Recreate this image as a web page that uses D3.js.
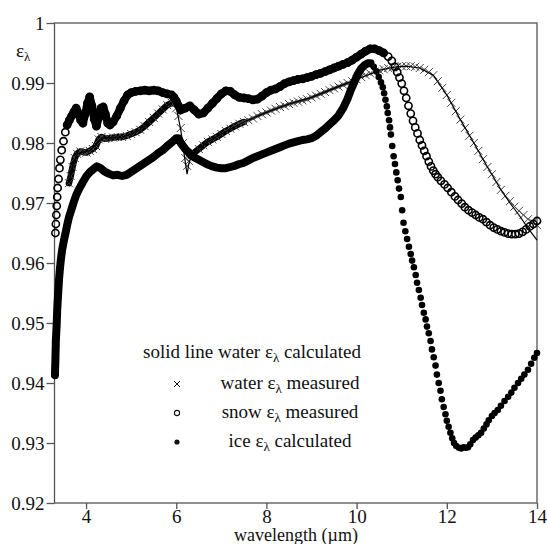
<!DOCTYPE html>
<html lang="en">
<head>
<meta charset="UTF-8">
<title>Emissivity vs wavelength</title>
<script src="https://d3js.org/d3.v7.min.js"></script>
<style>
  body { margin: 0; background: #fff; }
  svg { font-family: "Liberation Serif", "DejaVu Serif", serif; }
</style>
</head>
<body>
<svg width="547" height="544"></svg>
<script>
// axis ticks
const xTicks = [4, 6, 8, 10, 12, 14];
const xTickLabels = ["4", "6", "8", "10", "12", "14"];
const yTicks = [0.92, 0.93, 0.94, 0.95, 0.96, 0.97, 0.98, 0.99, 1];
const yTickLabels = ["0.92", "0.93", "0.94", "0.95", "0.96", "0.97", "0.98", "0.99", "1"];

// legend
const legendNames = ["solid line water", "water", "snow", "ice"];
const legendKinds = ["calculated", "measured", "measured", "calculated"];

// ice emissivity, calculated  [wavelength µm, emissivity]
const ice = [[3.31,0.9413],[3.32,0.9440],[3.33,0.9470],[3.35,0.9500],[3.36,0.9522],[3.38,0.9548],[3.40,0.9572],[3.42,0.9590],[3.44,0.9605],[3.47,0.9622],[3.51,0.9638],[3.55,0.9652],[3.58,0.9663],[3.62,0.9676],[3.67,0.9688],[3.72,0.9700],[3.78,0.9713],[3.85,0.9724],[3.93,0.9735],[4.01,0.9745],[4.09,0.9752],[4.17,0.9757],[4.24,0.9761],[4.32,0.9758],[4.40,0.9753],[4.50,0.9749],[4.60,0.9746],[4.70,0.9747],[4.80,0.9745],[4.90,0.9747],[5.00,0.9752],[5.10,0.9757],[5.20,0.9762],[5.30,0.9767],[5.40,0.9772],[5.50,0.9777],[5.60,0.9783],[5.70,0.9788],[5.80,0.9795],[5.90,0.9801],[6.00,0.9808],[6.05,0.9808],[6.10,0.9800],[6.20,0.9790],[6.30,0.9782],[6.40,0.9776],[6.50,0.9772],[6.60,0.9768],[6.70,0.9764],[6.80,0.9761],[6.90,0.9759],[7.00,0.9758],[7.10,0.9758],[7.20,0.9760],[7.30,0.9762],[7.40,0.9765],[7.50,0.9767],[7.60,0.9771],[7.70,0.9775],[7.80,0.9778],[7.90,0.9781],[8.00,0.9784],[8.10,0.9787],[8.20,0.9790],[8.30,0.9793],[8.40,0.9796],[8.50,0.9799],[8.60,0.9801],[8.70,0.9803],[8.80,0.9805],[8.90,0.9806],[9.00,0.9808],[9.10,0.9812],[9.20,0.9818],[9.30,0.9824],[9.40,0.9831],[9.50,0.9838],[9.60,0.9846],[9.70,0.9858],[9.80,0.9874],[9.87,0.9888],[9.95,0.9902],[10.02,0.9914],[10.10,0.9924],[10.18,0.9930],[10.25,0.9933],[10.31,0.9933],[10.38,0.9927],[10.44,0.9919],[10.49,0.9910],[10.54,0.9901],[10.58,0.9893],[10.61,0.9883],[10.64,0.9872],[10.67,0.9861],[10.69,0.9850],[10.72,0.9838],[10.74,0.9826],[10.76,0.9814],[10.79,0.9795],[10.82,0.9778],[10.85,0.9765],[10.88,0.9751],[10.91,0.9738],[10.94,0.9724],[10.98,0.9710],[11.01,0.9688],[11.04,0.9667],[11.08,0.9653],[11.12,0.9640],[11.16,0.9627],[11.20,0.9615],[11.23,0.9604],[11.27,0.9593],[11.31,0.9580],[11.34,0.9567],[11.38,0.9555],[11.42,0.9542],[11.45,0.9530],[11.49,0.9517],[11.53,0.9506],[11.56,0.9494],[11.60,0.9483],[11.64,0.9470],[11.67,0.9456],[11.71,0.9443],[11.75,0.9429],[11.78,0.9414],[11.82,0.9400],[11.86,0.9387],[11.89,0.9373],[11.93,0.9360],[11.97,0.9348],[12.00,0.9337],[12.04,0.9327],[12.08,0.9317],[12.12,0.9308],[12.16,0.9300],[12.21,0.9295],[12.27,0.9292],[12.32,0.9291],[12.37,0.9293],[12.42,0.9292],[12.47,0.9293],[12.52,0.9298],[12.58,0.9305],[12.64,0.9309],[12.70,0.9313],[12.76,0.9317],[12.82,0.9324],[12.88,0.9331],[12.93,0.9338],[13.00,0.9345],[13.06,0.9350],[13.13,0.9355],[13.20,0.9362],[13.28,0.9370],[13.36,0.9377],[13.43,0.9384],[13.50,0.9392],[13.58,0.9400],[13.65,0.9407],[13.72,0.9414],[13.80,0.9422],[13.87,0.9432],[13.94,0.9442],[14.00,0.9450]];

// snow emissivity, measured
const snow = [[3.32,0.9650],[3.33,0.9665],[3.34,0.9680],[3.35,0.9695],[3.36,0.9710],[3.37,0.9725],[3.39,0.9740],[3.41,0.9758],[3.43,0.9772],[3.46,0.9788],[3.50,0.9803],[3.54,0.9818],[3.58,0.9830],[3.63,0.9838],[3.68,0.9845],[3.73,0.9852],[3.78,0.9858],[3.83,0.9850],[3.88,0.9838],[3.93,0.9833],[3.98,0.9848],[4.03,0.9866],[4.08,0.9877],[4.13,0.9862],[4.18,0.9840],[4.23,0.9828],[4.28,0.9842],[4.33,0.9858],[4.38,0.9860],[4.43,0.9848],[4.48,0.9833],[4.53,0.9830],[4.60,0.9835],[4.68,0.9845],[4.76,0.9858],[4.84,0.9870],[4.92,0.9880],[5.00,0.9884],[5.10,0.9886],[5.20,0.9887],[5.30,0.9888],[5.40,0.9887],[5.50,0.9888],[5.60,0.9887],[5.70,0.9884],[5.80,0.9882],[5.90,0.9880],[5.95,0.9876],[6.00,0.9870],[6.05,0.9862],[6.10,0.9855],[6.20,0.9858],[6.30,0.9862],[6.40,0.9855],[6.50,0.9848],[6.60,0.9850],[6.70,0.9858],[6.80,0.9866],[6.90,0.9874],[7.00,0.9882],[7.10,0.9887],[7.20,0.9886],[7.30,0.9880],[7.40,0.9876],[7.50,0.9875],[7.60,0.9874],[7.70,0.9872],[7.80,0.9873],[7.90,0.9878],[8.00,0.9884],[8.10,0.9888],[8.20,0.9890],[8.30,0.9894],[8.40,0.9899],[8.50,0.9902],[8.60,0.9904],[8.70,0.9906],[8.80,0.9907],[8.90,0.9909],[9.00,0.9911],[9.10,0.9914],[9.20,0.9916],[9.30,0.9919],[9.40,0.9922],[9.50,0.9925],[9.60,0.9928],[9.70,0.9931],[9.80,0.9934],[9.90,0.9938],[10.00,0.9943],[10.10,0.9948],[10.20,0.9953],[10.30,0.9957],[10.40,0.9957],[10.50,0.9954],[10.60,0.9950],[10.70,0.9944],[10.78,0.9937],[10.85,0.9927],[10.90,0.9918],[10.95,0.9909],[11.00,0.9899],[11.05,0.9887],[11.10,0.9875],[11.15,0.9862],[11.20,0.9849],[11.25,0.9837],[11.30,0.9826],[11.35,0.9816],[11.40,0.9805],[11.45,0.9796],[11.50,0.9787],[11.55,0.9778],[11.60,0.9769],[11.65,0.9761],[11.70,0.9754],[11.75,0.9748],[11.80,0.9743],[11.87,0.9737],[11.95,0.9731],[12.02,0.9725],[12.10,0.9718],[12.18,0.9711],[12.25,0.9705],[12.33,0.9699],[12.40,0.9693],[12.48,0.9688],[12.56,0.9684],[12.64,0.9680],[12.72,0.9676],[12.80,0.9673],[12.88,0.9668],[12.96,0.9663],[13.04,0.9659],[13.12,0.9656],[13.20,0.9653],[13.28,0.9651],[13.36,0.9649],[13.44,0.9648],[13.52,0.9648],[13.60,0.9649],[13.68,0.9652],[13.76,0.9656],[13.84,0.9661],[13.92,0.9665],[14.00,0.9670]];

// water emissivity, measured
const waterMeas = [[3.62,0.9733],[3.66,0.9745],[3.70,0.9760],[3.75,0.9775],[3.80,0.9782],[3.87,0.9786],[3.94,0.9785],[4.01,0.9784],[4.08,0.9787],[4.15,0.9790],[4.22,0.9795],[4.28,0.9806],[4.34,0.9810],[4.42,0.9807],[4.50,0.9808],[4.60,0.9809],[4.70,0.9810],[4.80,0.9810],[4.90,0.9812],[5.00,0.9815],[5.10,0.9818],[5.20,0.9822],[5.30,0.9828],[5.40,0.9835],[5.50,0.9842],[5.60,0.9849],[5.70,0.9856],[5.80,0.9863],[5.90,0.9867],[5.95,0.9866],[6.00,0.9858],[6.05,0.9845],[6.10,0.9825],[6.15,0.9800],[6.20,0.9775],[6.24,0.9762],[6.28,0.9770],[6.32,0.9778],[6.40,0.9784],[6.50,0.9790],[6.60,0.9796],[6.70,0.9802],[6.80,0.9806],[6.90,0.9810],[7.00,0.9815],[7.10,0.9820],[7.20,0.9824],[7.30,0.9828],[7.40,0.9832],[7.50,0.9835],[7.60,0.9838],[7.70,0.9841],[7.80,0.9845],[7.90,0.9848],[8.00,0.9851],[8.10,0.9854],[8.20,0.9857],[8.30,0.9860],[8.40,0.9862],[8.50,0.9865],[8.60,0.9867],[8.70,0.9869],[8.80,0.9871],[8.90,0.9873],[9.00,0.9876],[9.10,0.9879],[9.20,0.9882],[9.30,0.9885],[9.40,0.9888],[9.50,0.9891],[9.60,0.9894],[9.70,0.9897],[9.80,0.9900],[9.90,0.9903],[10.00,0.9906],[10.10,0.9910],[10.20,0.9913],[10.30,0.9916],[10.40,0.9919],[10.50,0.9921],[10.60,0.9923],[10.70,0.9925],[10.80,0.9926],[10.90,0.9927],[11.00,0.9928],[11.10,0.9928],[11.20,0.9928],[11.30,0.9927],[11.40,0.9925],[11.50,0.9922],[11.60,0.9918],[11.70,0.9913],[11.80,0.9903],[11.90,0.9892],[12.00,0.9880],[12.10,0.9867],[12.20,0.9853],[12.30,0.9839],[12.40,0.9825],[12.50,0.9812],[12.60,0.9800],[12.70,0.9787],[12.80,0.9773],[12.90,0.9760],[13.00,0.9748],[13.10,0.9735],[13.20,0.9722],[13.30,0.9712],[13.40,0.9703],[13.50,0.9694],[13.60,0.9687],[13.70,0.9680],[13.80,0.9673],[13.90,0.9668],[14.00,0.9663]];

// water emissivity, calculated (solid line)
const waterCalc = [[3.62,0.9733],[3.70,0.9760],[3.80,0.9782],[3.94,0.9785],[4.08,0.9787],[4.22,0.9796],[4.34,0.9808],[4.60,0.9809],[4.80,0.9810],[5.00,0.9815],[5.20,0.9822],[5.40,0.9835],[5.60,0.9849],[5.80,0.9863],[5.92,0.9868],[6.00,0.9860],[6.10,0.9822],[6.20,0.9768],[6.24,0.9748],[6.28,0.9766],[6.35,0.9780],[6.50,0.9790],[6.70,0.9802],[7.00,0.9815],[7.50,0.9835],[8.00,0.9851],[8.50,0.9865],[9.00,0.9876],[9.50,0.9891],[10.00,0.9906],[10.50,0.9921],[10.80,0.9926],[11.10,0.9928],[11.40,0.9925],[11.70,0.9913],[12.00,0.9880],[12.30,0.9839],[12.60,0.9800],[12.90,0.9760],[13.20,0.9722],[13.40,0.9700],[13.60,0.9680],[13.80,0.9658],[14.00,0.9638]];

const svg = d3.select("svg");
const x = d3.scaleLinear().domain([3.3, 14]).range([54.5, 537]);
const y = d3.scaleLinear().domain([0.92, 1]).range([503, 23]);
const axisColor = "#555";
const serif = "'Liberation Serif', 'DejaVu Serif', serif";

// frame
svg.append("rect")
  .attr("x", x(3.3)).attr("y", y(1))
  .attr("width", x(14) - x(3.3)).attr("height", y(0.92) - y(1))
  .attr("fill", "none").attr("stroke", axisColor).attr("stroke-width", 1.3);

const yAxis = svg.append("g")
  .attr("transform", `translate(${x(3.3)},0)`)
  .call(d3.axisLeft(y).tickValues(yTicks).tickSize(8).tickPadding(2)
    .tickFormat((d, i) => yTickLabels[i]));

const xAxis = svg.append("g")
  .attr("transform", `translate(0,${y(0.92)})`)
  .call(d3.axisBottom(x).tickValues(xTicks).tickSize(6).tickPadding(1)
    .tickFormat((d, i) => xTickLabels[i]));

[yAxis, xAxis].forEach(g => {
  g.select(".domain").remove();
  g.selectAll("line").attr("stroke", axisColor).attr("stroke-width", 1.3);
  g.selectAll("text").attr("fill", "#111").style("font-size", "19px")
    .style("font-family", serif);
});

// axis titles
const yTitle = svg.append("text").attr("x", 16).attr("y", 57)
  .style("font-size", "19px").attr("fill", "#111");
yTitle.append("tspan").text("ε");
yTitle.append("tspan").attr("dy", 4).style("font-size", "13px").text("λ");

svg.append("text")
  .attr("x", 296).attr("y", 541)
  .attr("text-anchor", "middle")
  .style("font-size", "18px").attr("fill", "#111")
  .text("wavelength (µm)");

const line = d3.line().x(d => x(d[0])).y(d => y(d[1]));

// where the measured points sit so close together that they merge into a solid band
function band(data, keep, width, colour) {
  svg.append("path")
    .datum(data)
    .attr("d", d3.line().defined(keep).x(d => x(d[0])).y(d => y(d[1]))(data))
    .attr("fill", "none").attr("stroke", colour || "#000")
    .attr("stroke-width", width)
    .attr("stroke-linejoin", "round").attr("stroke-linecap", "round");
}

// water measured: x markers
band(waterMeas, d => d[0] <= 5.95 || (d[0] >= 6.32 && d[0] <= 7.5), 6.5);
band(waterMeas, d => d[0] >= 7.4 && d[0] <= 9.8, 3, "#444");
const xSize = 4;
svg.append("g").selectAll("path")
  .data(waterMeas)
  .join("path")
  .attr("d", d => {
    const cx = x(d[0]), cy = y(d[1]);
    return `M${cx - xSize},${cy - xSize}L${cx + xSize},${cy + xSize}M${cx - xSize},${cy + xSize}L${cx + xSize},${cy - xSize}`;
  })
  .attr("stroke", "#444").attr("stroke-width", 1).attr("fill", "none");

// water calculated: solid line
svg.append("path")
  .datum(waterCalc)
  .attr("d", line)
  .attr("fill", "none").attr("stroke", "#000").attr("stroke-width", 1.2);

// snow measured: open circles
band(snow, d => d[0] >= 3.56 && d[0] <= 10.6, 8);
svg.append("g").selectAll("circle")
  .data(snow)
  .join("circle")
  .attr("cx", d => x(d[0])).attr("cy", d => y(d[1]))
  .attr("r", 3.6)
  .attr("fill", "none").attr("stroke", "#000").attr("stroke-width", 1.6);

// ice calculated: filled dots
band(ice, d => d[0] <= 10.35, 8);
svg.append("g").selectAll("circle")
  .data(ice)
  .join("circle")
  .attr("cx", d => x(d[0])).attr("cy", d => y(d[1]))
  .attr("r", 3.3)
  .attr("fill", "#000");

// legend
const legend = svg.append("g").style("font-size", "19px").attr("fill", "#111");
const rowY = [358, 389, 418, 447];
legendNames.forEach((name, i) => {
  const t = legend.append("text")
    .attr("x", i === 0 ? 143 : 290).attr("y", rowY[i])
    .attr("text-anchor", i === 0 ? "start" : "middle");
  t.append("tspan").text(name + " ε");
  t.append("tspan").attr("dy", 4).style("font-size", "13px").text("λ");
  t.append("tspan").attr("dy", -4).text(" " + legendKinds[i]);
});

const mx = 177;
legend.append("path")
  .attr("d", `M${mx - 3},${rowY[1] - 8}L${mx + 3},${rowY[1] - 2}M${mx - 3},${rowY[1] - 2}L${mx + 3},${rowY[1] - 8}`)
  .attr("stroke", "#111").attr("stroke-width", 1);
legend.append("circle").attr("cx", mx).attr("cy", rowY[2] - 5).attr("r", 2.6)
  .attr("fill", "none").attr("stroke", "#111").attr("stroke-width", 1.1);
legend.append("circle").attr("cx", mx).attr("cy", rowY[3] - 5).attr("r", 2.6)
  .attr("fill", "#111");
</script>
</body>
</html>
